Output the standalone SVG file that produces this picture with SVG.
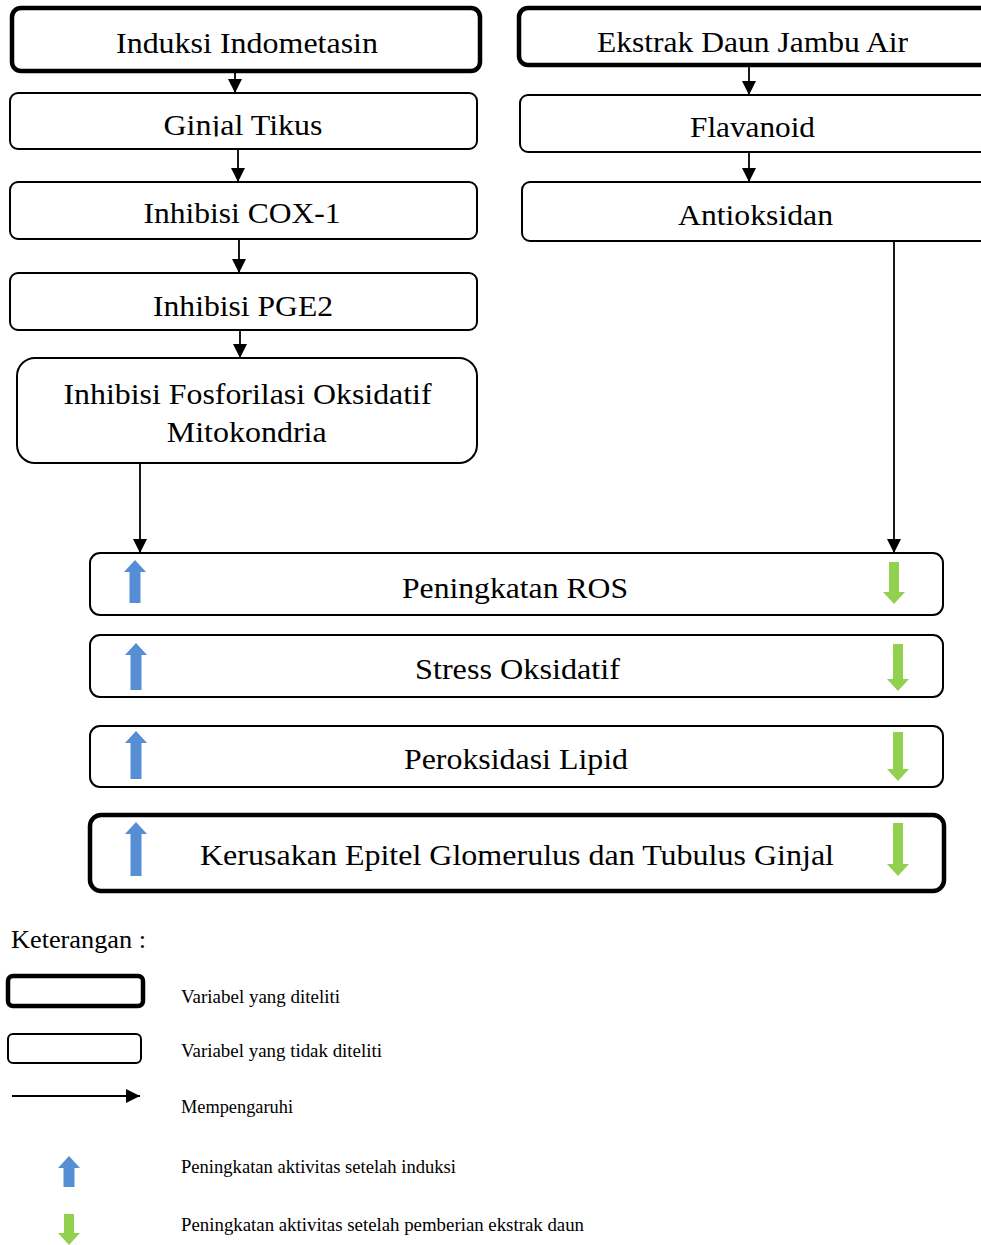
<svg xmlns="http://www.w3.org/2000/svg" width="981" height="1245" viewBox="0 0 981 1245">
<style>
.t{font-family:"Liberation Serif","Times New Roman",serif;font-size:30px;fill:#000;text-anchor:middle}
.lg{font-family:"Liberation Serif","Times New Roman",serif;font-size:18px;fill:#000}
.thin{fill:#fff;stroke:#000;stroke-width:2}
.thick{fill:#fff;stroke:#000;stroke-width:4.5}
.con{stroke:#000;stroke-width:1.8;fill:none;marker-end:url(#ah)}
.up{fill:#558ED5}
.dn{fill:#92D050}
</style>
<defs>
<marker id="ah" markerUnits="userSpaceOnUse" markerWidth="14" markerHeight="14" viewBox="0 0 14 14" refX="14" refY="7" orient="auto">
<path d="M0,0 L14,7 L0,14 z" fill="#000"/>
</marker>
<clipPath id="c1"><rect x="0" y="0" width="981" height="136.5"/></clipPath>
<clipPath id="c2"><rect x="0" y="0" width="981" height="53"/></clipPath>
</defs>
<rect width="981" height="1245" fill="#fff"/>

<g id="n-induksi">
<rect class="thick" x="12" y="8" width="468" height="63" rx="9"/>
<text class="t" x="247" y="53" textLength="262" lengthAdjust="spacingAndGlyphs">Induksi Indometasin</text>
</g>
<g id="n-ginjal">
<rect class="thin" x="10" y="93" width="467" height="56" rx="8"/>
<text class="t" x="243" y="135" textLength="159" lengthAdjust="spacingAndGlyphs" clip-path="url(#c1)">Ginjal Tikus</text>
</g>
<g id="n-cox">
<rect class="thin" x="10" y="182" width="467" height="57" rx="8"/>
<text class="t" x="242" y="223" textLength="197" lengthAdjust="spacingAndGlyphs">Inhibisi COX-1</text>
</g>
<g id="n-pge2">
<rect class="thin" x="10" y="273" width="467" height="57" rx="8"/>
<text class="t" x="243" y="316" textLength="180" lengthAdjust="spacingAndGlyphs">Inhibisi PGE2</text>
</g>
<g id="n-fosforilasi">
<rect class="thin" x="17" y="358" width="460" height="105" rx="18"/>
<text class="t" x="247.5" y="404" textLength="368" lengthAdjust="spacingAndGlyphs">Inhibisi Fosforilasi Oksidatif</text>
<text class="t" x="246.7" y="442" textLength="160" lengthAdjust="spacingAndGlyphs">Mitokondria</text>
</g>

<g id="n-ekstrak">
<rect class="thick" x="519" y="8" width="480" height="57" rx="9"/>
<text class="t" x="752.5" y="52" textLength="311" lengthAdjust="spacingAndGlyphs" clip-path="url(#c2)">Ekstrak Daun Jambu Air</text>
</g>
<g id="n-flavanoid">
<rect class="thin" x="520" y="95" width="480" height="57" rx="8"/>
<text class="t" x="752.5" y="137" textLength="125" lengthAdjust="spacingAndGlyphs">Flavanoid</text>
</g>
<g id="n-antioksidan">
<rect class="thin" x="522" y="182" width="478" height="59" rx="8"/>
<text class="t" x="755.5" y="225" textLength="155" lengthAdjust="spacingAndGlyphs">Antioksidan</text>
</g>

<g id="n-ros">
<rect class="thin" x="90" y="553" width="853" height="62" rx="10"/>
<text class="t" x="515" y="598" textLength="226" lengthAdjust="spacingAndGlyphs">Peningkatan ROS</text>
<polygon class="up" points="135,560 146,572 140.5,572 140.5,603 129.5,603 129.5,572 124,572"/>
<polygon class="dn" points="894,604 905,592 899,592 899,562 889,562 889,592 883,592"/>
</g>
<g id="n-stress">
<rect class="thin" x="90" y="635" width="853" height="62" rx="10"/>
<text class="t" x="517.5" y="679" textLength="205" lengthAdjust="spacingAndGlyphs">Stress Oksidatif</text>
<polygon class="up" points="136,643 147,655 141.5,655 141.5,690 130.5,690 130.5,655 125,655"/>
<polygon class="dn" points="898,691 909,679 903,679 903,644 893,644 893,679 887,679"/>
</g>
<g id="n-peroksidasi">
<rect class="thin" x="90" y="726" width="853" height="61" rx="10"/>
<text class="t" x="516" y="769" textLength="224" lengthAdjust="spacingAndGlyphs">Peroksidasi Lipid</text>
<polygon class="up" points="136,731 147,743 141.5,743 141.5,779 130.5,779 130.5,743 125,743"/>
<polygon class="dn" points="898,781 909,769 903,769 903,732 893,732 893,769 887,769"/>
</g>
<g id="n-kerusakan">
<rect class="thick" x="90" y="815" width="854" height="76" rx="11"/>
<text class="t" x="517" y="865" textLength="634" lengthAdjust="spacingAndGlyphs">Kerusakan Epitel Glomerulus dan Tubulus Ginjal</text>
<polygon class="up" points="136,822 147,834 141.5,834 141.5,876 130.5,876 130.5,834 125,834"/>
<polygon class="dn" points="898,876 909,864 903,864 903,823 893,823 893,864 887,864"/>
</g>

<g id="connectors">
<line class="con" x1="235" y1="71" x2="235" y2="93"/>
<line class="con" x1="238" y1="149" x2="238" y2="182"/>
<line class="con" x1="239" y1="239" x2="239" y2="273"/>
<line class="con" x1="240" y1="330" x2="240" y2="358"/>
<line class="con" x1="140" y1="463" x2="140" y2="553"/>
<line class="con" x1="749" y1="65" x2="749" y2="95"/>
<line class="con" x1="749" y1="152" x2="749" y2="182"/>
<line class="con" x1="894" y1="241" x2="894" y2="553"/>
</g>

<g id="legend">
<text x="11" y="948" font-family="Liberation Serif, Times New Roman, serif" font-size="25" textLength="135" lengthAdjust="spacingAndGlyphs">Keterangan :</text>
<rect class="thick" x="8" y="976" width="135" height="30" rx="5"/>
<text class="lg" x="181" y="1003" textLength="159" lengthAdjust="spacingAndGlyphs">Variabel yang diteliti</text>
<rect class="thin" x="8" y="1034" width="133" height="29" rx="5"/>
<text class="lg" x="181" y="1057" textLength="201" lengthAdjust="spacingAndGlyphs">Variabel yang tidak diteliti</text>
<line class="con" x1="12" y1="1096" x2="140" y2="1096"/>
<text class="lg" x="181" y="1113" textLength="112" lengthAdjust="spacingAndGlyphs">Mempengaruhi</text>
<polygon class="up" points="69,1156 80,1168 74.5,1168 74.5,1187 63.5,1187 63.5,1168 58,1168"/>
<text class="lg" x="181" y="1173" textLength="275" lengthAdjust="spacingAndGlyphs">Peningkatan aktivitas setelah induksi</text>
<polygon class="dn" points="69,1245 80,1233 74,1233 74,1214 64,1214 64,1233 58,1233"/>
<text class="lg" x="181" y="1231" textLength="403" lengthAdjust="spacingAndGlyphs">Peningkatan aktivitas setelah pemberian ekstrak daun</text>
</g>
</svg>
